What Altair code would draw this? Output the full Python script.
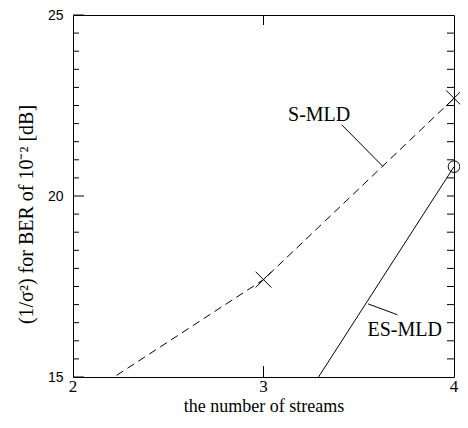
import altair as alt
import pandas as pd

# ---- data ----
streams = [2, 3, 4]
s_mld = [14.26, 17.69, 22.70]          # S-MLD (value at 2 streams lies below the plot)
es_streams = [3, 4]
es_mld = [12.64, 20.81]                # ES-MLD (value at 3 streams lies below the plot)

x_labels = [2, 3, 4]
x_inner_ticks = [3]
y_major = [15, 20, 25]
y_minor = [15.5, 16, 16.5, 17, 17.5, 18, 18.5, 19, 19.5,
           20.5, 21, 21.5, 22, 22.5, 23, 23.5, 24, 24.5]
y_right = [15.5, 16, 16.5, 17, 17.5, 18, 18.5, 19, 19.5, 20,
           20.5, 21, 21.5, 22, 22.5, 23, 23.5, 24, 24.5]

labels = ["S-MLD", "ES-MLD"]
label_x = [3.292, 3.741]
label_y = [22.08, 16.12]
leader_x = [3.410, 3.549]
leader_y = [21.97, 17.02]
leader_x2 = [3.626, 3.703]
leader_y2 = [20.82, 16.72]

W, H = 381, 362
SERIF = "Liberation Serif"
SANS = "Liberation Sans"
XT = "the number of streams"
YT = "(1/σ²) for BER of 10⁻² [dB]"

xs = alt.Scale(domain=[2, 4], nice=False, zero=False)
ys = alt.Scale(domain=[15, 25], nice=False, zero=False)

s_df = pd.DataFrame({"x": streams, "y": s_mld})
es_df = pd.DataFrame({"x": es_streams, "y": es_mld})

x_axis = alt.Axis(values=x_labels, labels=False, ticks=False, tickSize=0, domain=False, grid=False,
                  title=XT, titleFont=SERIF, titleFontSize=18,
                  titleFontWeight="normal", titleColor="black", titleY=34, titleBaseline="alphabetic")
y_axis = alt.Axis(values=y_major, format="d", ticks=False, tickSize=0, domain=False, grid=False,
                  labelFont=SANS, labelFontSize=14, labelColor="black", labelPadding=10,
                  labelOverlap=False, labelFlush=False,
                  title=YT, titleFont=SERIF, titleFontSize=20,
                  titleFontWeight="normal", titleColor="black", titleX=-47, titleY=199,
                  titleBaseline="middle", titleAlign="center", titleAngle=270)


def X(field):
    return alt.X(field, scale=xs, title=XT)


def Y(field):
    return alt.Y(field, scale=ys, title=YT)


s_line = alt.Chart(s_df).mark_line(color="black", strokeWidth=1, strokeDash=[8, 5], clip=True).encode(
    x=alt.X("x:Q", scale=xs, axis=x_axis),
    y=alt.Y("y:Q", scale=ys, axis=y_axis),
)
es_line = alt.Chart(es_df).mark_line(color="black", strokeWidth=1, clip=True).encode(
    x=X("x:Q"), y=Y("y:Q"))
s_pts = alt.Chart(s_df).transform_filter("datum.y >= 15").mark_point(
    shape="M-1,-1L1,1M-1,1L1,-1", size=250, filled=False, color="black", strokeWidth=1, opacity=1
).encode(x=X("x:Q"), y=Y("y:Q"))
es_pts = alt.Chart(es_df).transform_filter("datum.y >= 15").mark_point(
    shape="circle", size=135, filled=False, color="black", strokeWidth=1, opacity=1
).encode(x=X("x:Q"), y=Y("y:Q"))

ymaj_df = pd.DataFrame({"v": y_major})
ymin_df = pd.DataFrame({"v": y_minor})
yr_df = pd.DataFrame({"v": y_right})
xt_df = pd.DataFrame({"v": x_inner_ticks})
xl_df = pd.DataFrame({"v": x_labels, "t": [str(v) for v in x_labels]})

left_major = alt.Chart(ymaj_df).mark_rule(color="black", strokeWidth=1).encode(
    y=Y("v:Q"), x=alt.value(0), x2=alt.value(11))
left_minor = alt.Chart(ymin_df).mark_rule(color="black", strokeWidth=1).encode(
    y=Y("v:Q"), x=alt.value(0), x2=alt.value(6))
right_ticks = alt.Chart(yr_df).mark_rule(color="black", strokeWidth=1).encode(
    y=Y("v:Q"), x=alt.value(W - 7), x2=alt.value(W))
bottom_ticks = alt.Chart(xt_df).mark_rule(color="black", strokeWidth=1).encode(
    x=X("v:Q"), y=alt.value(H - 11), y2=alt.value(H))
top_ticks = alt.Chart(xt_df).mark_rule(color="black", strokeWidth=1).encode(
    x=X("v:Q"), y=alt.value(0), y2=alt.value(10))
x_tick_labels = alt.Chart(xl_df).mark_text(font=SERIF, fontSize=17, color="black",
                                           align="center", baseline="alphabetic").encode(
    x=X("v:Q"), y=alt.value(H + 15), text="t:N")

ann_df = pd.DataFrame({"label": labels, "x": label_x, "y": label_y,
                       "lx": leader_x, "ly": leader_y, "lx2": leader_x2, "ly2": leader_y2})
ann_text = alt.Chart(ann_df).mark_text(font=SERIF, fontSize=20, color="black",
                                       align="center", baseline="alphabetic").encode(
    x=X("x:Q"), y=Y("y:Q"), text="label:N")
ann_lines = alt.Chart(ann_df).mark_rule(color="black", strokeWidth=1).encode(
    x=X("lx:Q"), y=Y("ly:Q"), x2="lx2:Q", y2="ly2:Q")

chart = alt.layer(
    s_line, es_line, left_major, left_minor, right_ticks, bottom_ticks, top_ticks,
    x_tick_labels, ann_lines, ann_text, s_pts, es_pts,
).properties(
    width=W, height=H,
    autosize=alt.AutoSizeParams(type="none"),
    padding={"left": 65, "top": 7, "right": 6, "bottom": 38},
    background="white",
).configure_view(stroke="black", strokeWidth=1)

chart.save("out.html", embed_options={"renderer": "svg", "actions": False})
